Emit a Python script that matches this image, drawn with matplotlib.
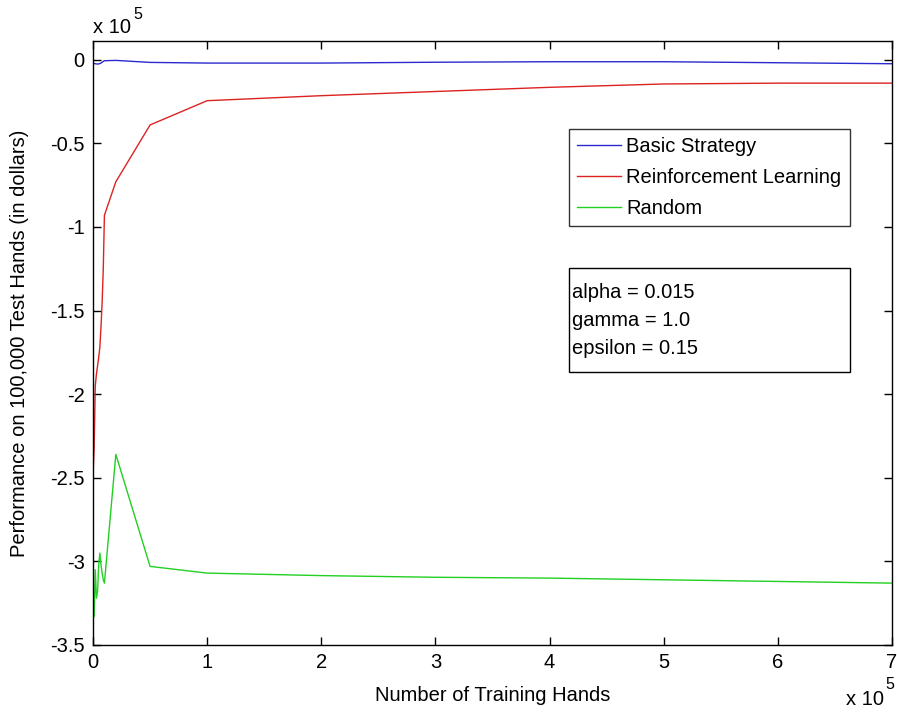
import matplotlib
matplotlib.use("Agg")
import matplotlib.pyplot as plt
from matplotlib.patches import Rectangle
from matplotlib.ticker import FuncFormatter, FixedLocator

# ---- data ----
training_hands = [0, 1000, 2000, 3000, 4000, 5000, 6000, 7000, 8000, 9000, 10000,
                  20000, 50000, 100000, 200000, 300000, 400000, 500000, 600000, 700000]
basic_strategy = [-2200, -2300, -2400, -2500, -2600, -2500, -2300, -2000, -1500, -1000, -600,
                  -400, -1600, -2000, -2000, -1500, -1200, -1200, -1800, -2400]
reinforcement = [-249000, -232000, -195000, -188000, -183000, -178000, -172000, -160000, -145000, -125000, -93000,
                 -73000, -39000, -24500, -21500, -19000, -16500, -14500, -14000, -14000]
random_play = [-320000, -333000, -305000, -322000, -318000, -302000, -295000, -302000, -307000, -311000, -313000,
               -236000, -303000, -307000, -308500, -309500, -310000, -311000, -312000, -313000]
series_labels = ["Basic Strategy", "Reinforcement Learning", "Random"]
param_lines = ["alpha = 0.015", "gamma = 1.0", "epsilon = 0.15"]
x_ticks = [0, 100000, 200000, 300000, 400000, 500000, 600000, 700000]
y_ticks = [0, -50000, -100000, -150000, -200000, -250000, -300000, -350000]

plt.rcParams['font.family'] = ['Liberation Sans', 'DejaVu Sans']
FS = 14.5

fig = plt.figure(figsize=(8.97, 7.14), dpi=100)
ax = fig.add_axes([93/897, 1-645/714, (892-93)/897, (645-41)/714])

ax.plot(training_hands, basic_strategy, color='#2a2ad0', lw=1.0, label=series_labels[0])
ax.plot(training_hands, reinforcement, color='#dd2222', lw=1.0, label=series_labels[1])
ax.plot(training_hands, random_play, color='#22d022', lw=1.0, label=series_labels[2])

ax.set_xlim(0, 700000)
ax.set_ylim(-350000, 11200)
ax.xaxis.set_major_locator(FixedLocator(x_ticks))
ax.yaxis.set_major_locator(FixedLocator(y_ticks))

def fmt(v, pos):
    return '%g' % (v / 1e5)
ax.xaxis.set_major_formatter(FuncFormatter(fmt))
ax.yaxis.set_major_formatter(FuncFormatter(fmt))

ax.tick_params(direction='in', length=6, width=1, top=True, right=True,
               labelsize=FS, colors='black', pad=6)
for sp in ax.spines.values():
    sp.set_linewidth(1.0)
    sp.set_color('black')

ax.set_xlabel("Number of Training Hands", fontsize=FS, labelpad=10)
ax.set_ylabel("Performance on 100,000 Test Hands (in dollars)", fontsize=FS, labelpad=15)

# multiplier texts (MATLAB style)
ax.text(0.0, 1.013, "x 10", transform=ax.transAxes, fontsize=FS, ha='left', va='baseline')
ax.text(0.051, 1.036, "5", transform=ax.transAxes, fontsize=FS*0.8, ha='left', va='baseline')
ax.text(0.943, -0.100, "x 10", transform=ax.transAxes, fontsize=FS, ha='left', va='baseline')
ax.text(0.992, -0.073, "5", transform=ax.transAxes, fontsize=FS*0.8, ha='left', va='baseline')

leg = ax.legend(loc='upper left', bbox_to_anchor=((569-93)/799, 1-(129-41)/604),
                fontsize=FS, frameon=True, fancybox=False, edgecolor='black',
                handlelength=2.2, handletextpad=0.25, borderpad=0.4,
                labelspacing=0.6, borderaxespad=0.0)
leg.get_frame().set_linewidth(1.0)

# parameter text box
x0 = (569-93)/799
y_top = 1-(268-41)/604
y_bot = 1-(372-41)/604
x1 = (850-93)/799
ax.add_patch(Rectangle((x0, y_bot), x1-x0, y_top-y_bot, transform=ax.transAxes,
                       fill=False, edgecolor='black', lw=1.0, zorder=5))
ax.text(x0+0.004, (y_top+y_bot)/2, "\n".join(param_lines), transform=ax.transAxes,
        fontsize=FS, ha='left', va='center', linespacing=1.6)

fig.savefig("out.png", dpi=100)
